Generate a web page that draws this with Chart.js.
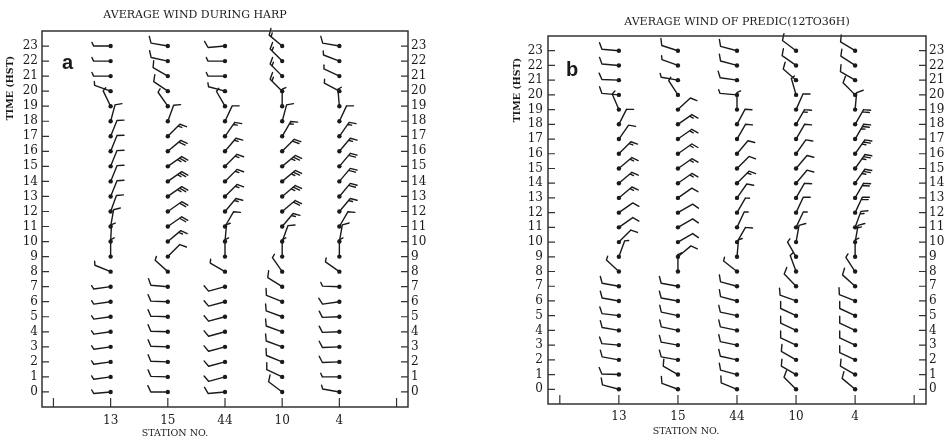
<!DOCTYPE html>
<html lang="en">
<head>
<meta charset="utf-8">
<style>
    body {
        margin: 0;
        background-color: #fff;
    }
    .panel {
        position: absolute;
        top: 0;
        width: 472px;
        height: 444px;
    }
    #panelA { left: 0; }
    #panelB { left: 472px; }
</style>
</head>
<body>

<div class="panel" id="panelA"><canvas id="harpChart"></canvas></div>
<div class="panel" id="panelB"><canvas id="predChart"></canvas></div>

<script src="https://cdn.jsdelivr.net/npm/chart.js"></script>
<script>
    // station labels along x, hours along y
    const stationLabels = ['13', '15', '44', '10', '4'];
    const hourTicks = [0, 1, 2, 3, 4, 5, 6, 7, 8, 9, 10, 11, 12, 13, 14, 15, 16, 17, 18, 19, 20, 21, 22, 23];

    // wind direction (deg, direction the staff points = wind from) and speed (kt), hours 0..23
    // panel a: average wind during HARP
    const harp13Dir = [265, 262, 262, 262, 262, 262, 262, 262, 292, 0, 3, 10, 20, 22, 22, 22, 22, 22, 15, 334, 290, 270, 270, 270];
    const harp13Spd = [5, 5, 5, 5, 5, 5, 5, 5, 5, 5, 5, 10, 10, 10, 10, 10, 10, 10, 10, 5, 5, 5, 5, 5];
    const harp15Dir = [270, 272, 272, 272, 272, 272, 272, 275, 312, 45, 50, 55, 55, 55, 55, 55, 50, 45, 20, 325, 304, 300, 282, 280];
    const harp15Spd = [10, 10, 10, 10, 10, 10, 10, 10, 5, 10, 15, 20, 20, 25, 25, 25, 20, 15, 10, 5, 10, 10, 10, 10];
    const harp44Dir = [265, 255, 255, 255, 255, 255, 255, 255, 300, 0, 5, 30, 40, 45, 45, 45, 40, 35, 25, 330, 285, 270, 270, 265];
    const harp44Spd = [10, 10, 10, 10, 10, 10, 10, 10, 5, 5, 5, 10, 15, 15, 15, 15, 15, 15, 10, 5, 5, 5, 5, 10];
    const harp10Dir = [307, 295, 292, 290, 290, 290, 292, 302, 325, 0, 20, 40, 50, 50, 50, 50, 45, 30, 15, 0, 315, 315, 315, 310];
    const harp10Spd = [10, 10, 10, 10, 10, 10, 10, 10, 5, 5, 10, 15, 20, 25, 25, 25, 20, 15, 10, 5, 15, 15, 15, 15];
    const harp4Dir = [280, 270, 268, 268, 268, 268, 262, 272, 305, 0, 10, 30, 40, 40, 40, 40, 40, 35, 25, 355, 298, 295, 291, 280];
    const harp4Spd = [5, 5, 10, 10, 10, 10, 10, 5, 5, 5, 10, 10, 15, 20, 20, 20, 15, 15, 10, 5, 5, 5, 5, 10];

    // panel b: average wind of prediction (12 to 36 h)
    const pred13Dir = [285, 272, 280, 275, 280, 277, 280, 280, 313, 20, 45, 55, 55, 50, 50, 50, 45, 35, 27, 337, 275, 272, 275, 275];
    const pred13Spd = [10, 10, 10, 10, 10, 10, 10, 10, 5, 5, 10, 10, 10, 15, 15, 15, 15, 10, 10, 5, 10, 10, 10, 10];
    const pred15Dir = [290, 300, 280, 280, 282, 282, 280, 280, 0, 50, 60, 60, 60, 55, 55, 55, 55, 55, 55, 47, 327, 280, 290, 288];
    const pred15Spd = [10, 10, 10, 10, 10, 10, 10, 10, 5, 10, 10, 10, 10, 10, 15, 15, 15, 15, 15, 10, 5, 5, 5, 10];
    const pred44Dir = [292, 285, 282, 282, 282, 282, 285, 285, 308, 5, 30, 25, 30, 35, 45, 45, 40, 30, 28, 0, 275, 278, 285, 285];
    const pred44Spd = [10, 10, 10, 10, 10, 10, 10, 10, 5, 5, 10, 5, 5, 10, 15, 10, 10, 10, 10, 5, 5, 10, 10, 10];
    const pred10Dir = [315, 300, 300, 295, 295, 295, 290, 316, 340, 330, 10, 25, 25, 30, 40, 40, 35, 30, 30, 24, 344, 311, 305, 307];
    const pred10Spd = [10, 10, 10, 10, 10, 10, 10, 10, 5, 5, 10, 5, 10, 10, 10, 10, 10, 10, 15, 10, 5, 10, 10, 10];
    const pred4Dir = [310, 300, 295, 295, 295, 295, 292, 312, 327, 0, 10, 20, 25, 30, 35, 35, 35, 30, 30, 5, 315, 300, 303, 301];
    const pred4Spd = [10, 10, 10, 10, 10, 10, 10, 10, 5, 5, 15, 15, 20, 20, 25, 25, 25, 25, 20, 10, 10, 10, 10, 10];

    const INK = '#1a1a1a';
    const STAFF = 17, FULL = 7, HALF = 4, GAP = 2.6, TILT = 65;

    // one wind barb: staff from the station dot, barbs at the outer end
    function drawBarb(ctx, px, py, dir, spd) {
        const r = dir * Math.PI / 180;
        const dx = Math.sin(r), dy = -Math.cos(r);
        const tx = px + dx * STAFF, ty = py + dy * STAFF;
        const a = TILT * Math.PI / 180;
        const bx = Math.cos(a) * dx - Math.sin(a) * dy;
        const by = Math.sin(a) * dx + Math.cos(a) * dy;

        ctx.beginPath();
        ctx.moveTo(px, py);
        ctx.lineTo(tx, ty);
        let pos = 0;
        const full = Math.floor(spd / 10);
        const half = (spd % 10) >= 5;
        for (let i = 0; i < full; i++) {
            const sx = tx - dx * pos, sy = ty - dy * pos;
            ctx.moveTo(sx, sy);
            ctx.lineTo(sx + bx * FULL, sy + by * FULL);
            pos += GAP;
        }
        if (half) {
            const sx = tx - dx * pos, sy = ty - dy * pos;
            ctx.moveTo(sx, sy);
            ctx.lineTo(sx + bx * HALF, sy + by * HALF);
        }
        ctx.stroke();
    }

    const barbPlugin = {
        id: 'barbs',
        beforeDatasetsDraw(chart, args, opts) {
            const ctx = chart.ctx;
            const xs = chart.scales.x, ys = chart.scales.y;
            ctx.save();
            ctx.strokeStyle = INK;
            ctx.lineWidth = 1.4;
            ctx.lineCap = 'round';
            ctx.lineJoin = 'round';
            opts.dirs.forEach((dirs, i) => {
                dirs.forEach((d, h) => {
                    drawBarb(ctx, xs.getPixelForValue(i + 1), ys.getPixelForValue(hourTicks[h]), d, opts.spds[i][h]);
                });
            });
            ctx.restore();
        }
    };

    // box with inward tick marks, plus the free text of each panel
    const framePlugin = {
        id: 'frame',
        afterDraw(chart, args, opts) {
            const ctx = chart.ctx;
            const { left, right, top, bottom } = chart.chartArea;
            const xs = chart.scales.x, ys = chart.scales.y;
            ctx.save();
            ctx.strokeStyle = '#333';
            ctx.lineWidth = 1.5;
            ctx.strokeRect(left, top, right - left, bottom - top);
            ctx.lineWidth = 1.2;
            ctx.beginPath();
            hourTicks.forEach(h => {
                const y = ys.getPixelForValue(h);
                ctx.moveTo(left, y); ctx.lineTo(left + 7, y);
                ctx.moveTo(right, y); ctx.lineTo(right - 7, y);
            });
            for (let v = 0; v <= 6; v++) {
                const x = xs.getPixelForValue(v);
                ctx.moveTo(x, bottom); ctx.lineTo(x, bottom - 9);
            }
            ctx.stroke();

            ctx.fillStyle = INK;
            ctx.textAlign = 'center';
            ctx.textBaseline = 'middle';
            ctx.font = '11px "DejaVu Serif"';
            ctx.fillText(opts.title, opts.titleX, opts.titleY);
            ctx.font = '9.5px "DejaVu Serif"';
            ctx.fillText('STATION NO.', opts.xTitleX, opts.xTitleY);
            ctx.font = 'bold 20px "Liberation Sans"';
            ctx.textAlign = 'left';
            ctx.textBaseline = 'alphabetic';
            ctx.fillText(opts.letter, opts.letterX, opts.letterY);
            ctx.translate(opts.yTitleX, opts.yTitleY);
            ctx.rotate(-Math.PI / 2);
            ctx.textAlign = 'center';
            ctx.textBaseline = 'middle';
            ctx.font = 'bold 9.5px "DejaVu Serif"';
            ctx.fillText('TIME (HST)', 0, 0);
            ctx.restore();
        }
    };

    function hourAxis(position, width, pad) {
        return {
            type: 'linear',
            position: position,
            min: -1,
            max: 24,
            afterBuildTicks: s => { s.ticks = hourTicks.map(v => ({ value: v })); },
            afterFit: s => { s.width = width; },
            grid: { display: false, drawTicks: false },
            border: { display: false },
            ticks: {
                padding: pad,
                color: INK,
                autoSkip: false,
                font: { family: 'DejaVu Serif', size: 12 }
            }
        };
    }

    function makePanel(canvasId, dirs, spds, geo) {
        const points = [];
        dirs.forEach((d, i) => {
            hourTicks.forEach(h => points.push({ x: i + 1, y: h }));
        });

        new Chart(document.getElementById(canvasId), {
            type: 'scatter',
            data: {
                datasets: [{
                    data: points,
                    pointRadius: 2.2,
                    pointBackgroundColor: INK,
                    pointBorderWidth: 0
                }]
            },
            options: {
                responsive: true,
                maintainAspectRatio: false,
                animation: false,
                layout: { padding: { top: geo.top, left: 0, right: 0, bottom: 0 } },
                plugins: {
                    legend: { display: false },
                    tooltip: { enabled: false },
                    barbs: { dirs: dirs, spds: spds },
                    frame: geo
                },
                scales: {
                    x: {
                        type: 'linear',
                        min: -0.2,
                        max: 6.2,
                        afterBuildTicks: s => { s.ticks = [0, 1, 2, 3, 4, 5, 6].map(v => ({ value: v })); },
                        afterFit: s => { s.height = geo.xH; },
                        grid: { display: false, drawTicks: false },
                        border: { display: false },
                        ticks: {
                            padding: geo.xPad,
                            color: INK,
                            maxRotation: 0,
                            autoSkip: false,
                            font: { family: 'DejaVu Serif', size: 12 },
                            callback: v => (v >= 1 && v <= 5) ? stationLabels[v - 1] : ''
                        }
                    },
                    y: hourAxis('left', geo.yW, geo.yPad),
                    y2: hourAxis('right', geo.y2W, 3)
                }
            },
            plugins: [barbPlugin, framePlugin]
        });
    }

    makePanel('harpChart',
        [harp13Dir, harp15Dir, harp44Dir, harp10Dir, harp4Dir],
        [harp13Spd, harp15Spd, harp44Spd, harp10Spd, harp4Spd],
        {
            title: 'AVERAGE WIND DURING HARP', titleX: 195, titleY: 15,
            letter: 'a', letterX: 62, letterY: 69,
            yTitleX: 11, yTitleY: 88, xTitleX: 175, xTitleY: 434,
            top: 31, yW: 42, y2W: 64, xH: 37, xPad: 7, yPad: 4
        });

    makePanel('predChart',
        [pred13Dir, pred15Dir, pred44Dir, pred10Dir, pred4Dir],
        [pred13Spd, pred15Spd, pred44Spd, pred10Spd, pred4Spd],
        {
            title: 'AVERAGE WIND OF PREDIC(12TO36H)', titleX: 265, titleY: 22,
            letter: 'b', letterX: 94, letterY: 76,
            yTitleX: 46, yTitleY: 90, xTitleX: 214, xTitleY: 432,
            top: 36, yW: 76, y2W: 18, xH: 40, xPad: 6, yPad: 5
        });
</script>

</body>
</html>
